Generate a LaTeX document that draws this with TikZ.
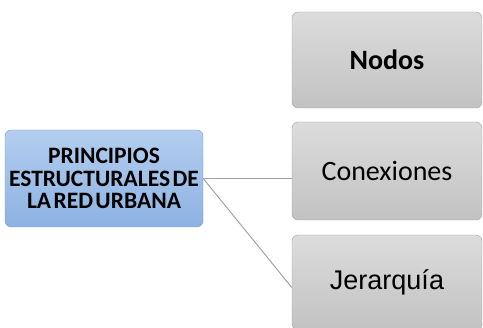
\documentclass[tikz,border=0pt]{standalone}
\usepackage{fontspec}
\setmainfont{Carlito}
\newfontfamily\titlefont[WordSpace=0.45]{Carlito}
\newfontfamily\arialfont{Liberation Sans}
\definecolor{bluetop}{HTML}{B3CEEF}
\definecolor{bluebot}{HTML}{8DB2E2}
\definecolor{blueline}{HTML}{7C9CC6}
\definecolor{graytop}{HTML}{DCDCDC}
\definecolor{graybot}{HTML}{C2C2C2}
\definecolor{grayline}{HTML}{A3A3A3}
\tikzset{
  mainbox/.style={draw=blueline, rounded corners=6pt, top color=bluetop, bottom color=bluebot,
    minimum width=198pt, minimum height=97pt, text width=196pt, align=flush center, inner sep=0pt,
    font=\titlefont\bfseries\fontsize{23.5}{22.5}\selectfont},
  subbox/.style={draw=grayline, rounded corners=6pt, top color=graytop, bottom color=graybot,
    minimum width=190pt, minimum height=96pt, inner sep=0pt, font=\fontsize{28}{30}\selectfont},
  link/.style={draw=grayline, line width=1pt}
}
\begin{document}
\begin{tikzpicture}[x=1pt,y=-1pt]
\useasboundingbox (0,0) rectangle (483,328);

\node[mainbox] (v1) at (104,178.5) {PRINCIPIOS\\ESTRUCTURALES DE\\LA RED URBANA};
\node[subbox, font=\bfseries\fontsize{28}{30}\selectfont] (v2) at (387,60) {Nodos};
\node[subbox, minimum height=98pt] (v3) at (387,171) {Conexiones};
\node[subbox, minimum height=95pt, font=\arialfont\fontsize{27}{30}\selectfont] (v4) at (387,282.5) {Jerarquía};

\draw[link] (v1.east) -- (v1.east -| v3.west);
\draw[link] (v1.east) -- ([yshift=-5pt]v4.west);
\end{tikzpicture}
\end{document}
